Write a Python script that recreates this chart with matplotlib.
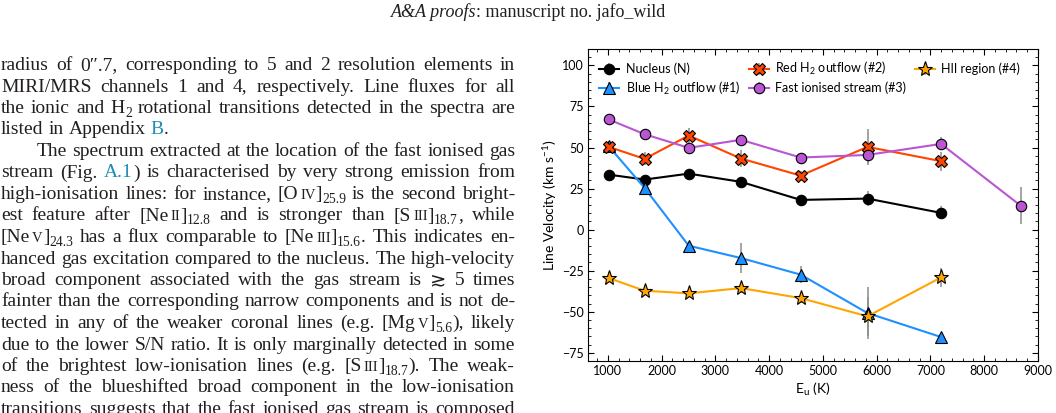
import re
import matplotlib
matplotlib.use("Agg")
import matplotlib.pyplot as plt
from matplotlib.ticker import MultipleLocator

plt.rcParams.update({
    "font.family": ["Lato", "DejaVu Sans"],
    "mathtext.fontset": "custom",
    "mathtext.rm": "Lato",
    "mathtext.it": "Lato:italic",
    "mathtext.bf": "Lato:bold",
})

# H2 upper level energies (K)
eu = [1015, 1682, 2504, 3474, 4586, 5829, 7197, 8677]

nucleus_v = [33.5, 30.5, 34.1, 29.1, 18.1, 18.9, 10.2]
nucleus_err = [2, 2, 2, 2, 2, 4.8, 4]
blue_v = [50.8, 25.4, -9.8, -17.3, -27.4, -50.8, -65.4]
blue_err = [3, 3, 2, 9, 5, 15.7, 2]
red_v = [50.4, 43.1, 57.3, 43.3, 32.9, 50.4, 41.7]
red_err = [3, 4, 4.6, 5, 3, 11, 5.8]
fast_v = [67.1, 58.1, 49.8, 54.7, 43.9, 45.5, 52.2, 14.6]
fast_err = [2, 2, 2, 3, 2, 5, 4, 11.4]
hii_v = [-29.5, -37.2, -38.8, -35.6, -41.7, -52.8, -29.1]
hii_err = [2, 2, 2, 3, 3, 12, 6]

header_it = "A&A proofs"
header_rm = ": manuscript no. jafo_wild"

body = [
    "radius of 0\u2033.7, corresponding to 5 and 2 resolution elements in",
    "MIRI/MRS channels 1 and 4, respectively. Line fluxes for all",
    "the ionic and H{s:2} rotational transitions detected in the spectra are",
    "listed in Appendix {b:B}.",
    "The spectrum extracted at the location of the fast ionised gas",
    "stream (Fig. {b:A.1}) is characterised by very strong emission from",
    "high-ionisation lines: for instance, [O{c:iv}]{s:25.9} is the second bright-",
    "est feature after [Ne{c:ii}]{s:12.8} and is stronger than [S{c:iii}]{s:18.7}, while",
    "[Ne{c:v}]{s:24.3} has a flux comparable to [Ne{c:iii}]{s:15.6}. This indicates en-",
    "hanced gas excitation compared to the nucleus. The high-velocity",
    "broad component associated with the gas stream is \u2273 5 times",
    "fainter than the corresponding narrow components and is not de-",
    "tected in any of the weaker coronal lines (e.g. [Mg{c:v}]{s:5.6}), likely",
    "due to the lower S/N ratio. It is only marginally detected in some",
    "of the brightest low-ionisation lines (e.g. [S{c:iii}]{s:18.7}). The weak-",
    "ness of the blueshifted broad component in the low-ionisation",
    "transitions suggests that the fast ionised gas stream is composed",
]

W, H = 1056, 413
fig = plt.figure(figsize=(W / 100, H / 100), dpi=100)
renderer = fig.canvas.get_renderer()

serif = ["Liberation Serif", "DejaVu Serif", "DejaVu Sans"]
fs = 14
fs_head = 13
ink = "#231f20"
link = "#1c8db5"


def px(x, y):
    return x / W, 1 - y / H


def measure(txt, size=fs):
    t = fig.text(0, 0, txt, fontsize=size, family=serif)
    w = t.get_window_extent(renderer).width
    t.remove()
    return w


def make_run(txt, kind):
    size, dy, pre, col = fs, 0, 0, ink
    if kind == "s":
        size, dy = fs * 0.7, 4
    elif kind == "c":
        txt, size, pre = txt.upper(), fs * 0.75, 2
    elif kind == "b":
        col = link
    t = fig.text(0, 0, txt, fontsize=size, family=serif, color=col,
                 va="baseline", ha="left")
    w = t.get_window_extent(renderer).width
    return t, w, dy, pre


def draw_line(s, x0, x1, y, justify=True):
    words = []
    for word in s.split(" "):
        runs = []
        for part in re.split(r"(\{\w:[^}]*\})", word):
            if not part:
                continue
            m = re.match(r"\{(\w):([^}]*)\}", part)
            runs.append(make_run(m.group(2), m.group(1)) if m else make_run(part, "r"))
        words.append(runs)
    widths = [sum(r[1] + r[3] for r in wd) for wd in words]
    if justify and len(words) > 1:
        gap = (x1 - x0 - sum(widths)) / (len(words) - 1)
    else:
        gap = measure("a a") - measure("aa")
    x = x0
    for wd in words:
        for t, w, dy, pre in wd:
            x += pre
            t.set_position(px(x, y + dy))
            x += w
        x += gap


# page header
hi = fig.text(0, 0, header_it, fontsize=fs_head, family=serif, style="italic", color=ink, va="baseline")
hr = fig.text(0, 0, header_rm, fontsize=fs_head, family=serif, color=ink, va="baseline")
w1 = hi.get_window_extent(renderer).width
w2 = hr.get_window_extent(renderer).width
hx = 528 - (w1 + w2) / 2
hi.set_position(px(hx, 17))
hr.set_position(px(hx + w1, 17))

# body text column
for i, line in enumerate(body):
    y = 70 + 21.5 * i
    x0 = 37 if i == 4 else 1
    draw_line(line, x0, 515, y, justify=(i != 3))

# chart
ax = fig.add_axes([588 / W, 1 - 361 / H, (1038 - 588) / W, (361 - 49) / H])
ekw = dict(ecolor="#8c8c8c", elinewidth=1.1, capsize=0, lw=1.5, mec="black", mew=0.8)
n = len(nucleus_v)
ax.errorbar(eu[:n], nucleus_v, yerr=nucleus_err, color="black", marker="o", ms=7.5,
            mfc="black", label="Nucleus (N)", **ekw)
ax.errorbar(eu[:n], blue_v, yerr=blue_err, color="#1e90ff", marker="^", ms=8.5,
            mfc="#1e90ff", label="Blue H$_2$ outflow (#1)", **ekw)
ax.errorbar(eu[:n], red_v, yerr=red_err, color="#ff4500", marker="X", ms=9,
            mfc="#ff4500", label="Red H$_2$ outflow (#2)", **ekw)
ax.errorbar(eu, fast_v, yerr=fast_err, color="#ba55d3", marker="o", ms=7.5,
            mfc="#ba55d3", label="Fast ionised stream (#3)", **ekw)
ax.errorbar(eu[:n], hii_v, yerr=hii_err, color="#ffa500", marker="*", ms=11,
            mfc="#ffa500", label="HII region (#4)", **ekw)

ax.set_xlim(630, 9000)
ax.set_ylim(-80, 110)
ax.xaxis.set_major_locator(MultipleLocator(1000))
ax.xaxis.set_minor_locator(MultipleLocator(200))
ax.yaxis.set_major_locator(MultipleLocator(25))
ax.yaxis.set_minor_locator(MultipleLocator(5))
ax.tick_params(which="both", direction="in", top=True, right=True, labelsize=9, pad=3)
ax.tick_params(which="major", length=4, width=0.8)
ax.tick_params(which="minor", length=2, width=0.6)
ax.set_xlabel("E$_{\\rm u}$ (K)", fontsize=10, labelpad=3)
ax.set_ylabel("Line Velocity (km s$^{-1}$)", fontsize=10)
ax.yaxis.set_label_coords(-0.064, 0.5)
ax.legend(loc="upper left", bbox_to_anchor=(0.0, 1.0), ncol=3, frameon=False,
          fontsize=9, handlelength=1.6, handletextpad=0.5, columnspacing=0.7,
          labelspacing=0.35, borderaxespad=0.5)

fig.savefig("out.png", dpi=100)
